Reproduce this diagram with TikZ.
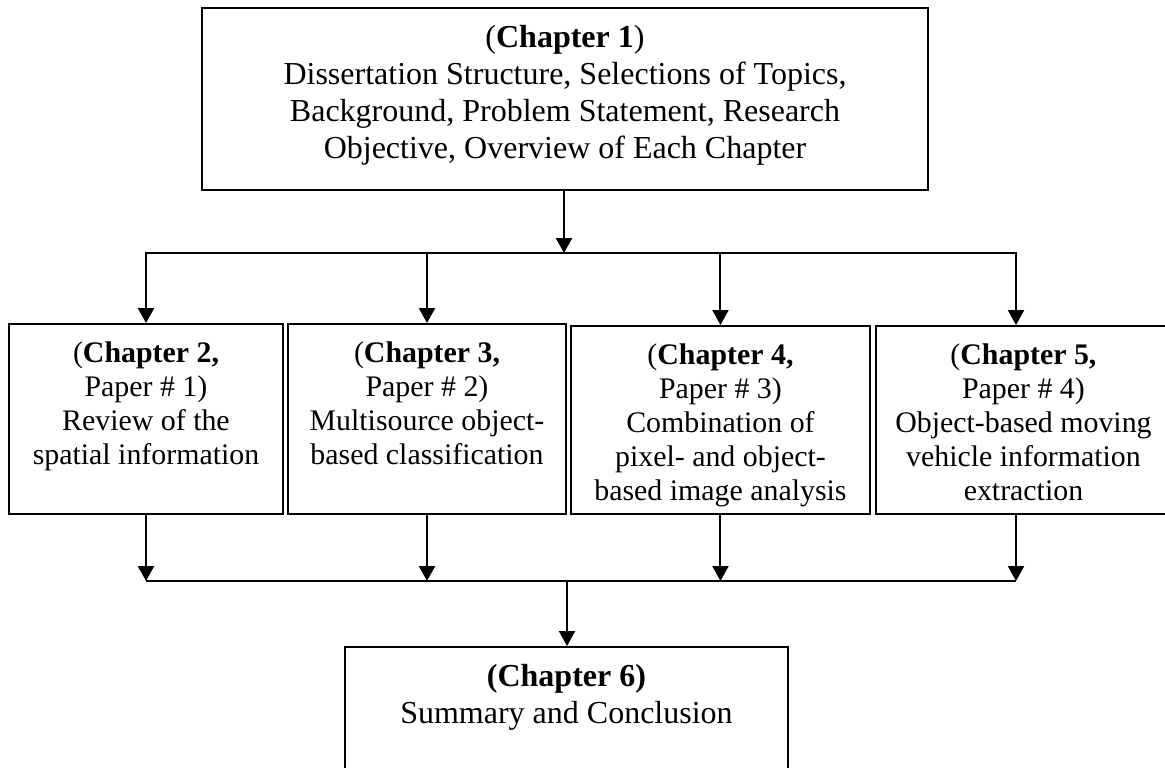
\documentclass[tikz,border=0pt]{standalone}
\usepackage{fontspec}
\setmainfont{Liberation Serif}
\usetikzlibrary{positioning,arrows.meta}

\tikzset{
  chbox/.style={draw, line width=0.75pt, anchor=north west, inner sep=0pt},
  chtext/.style={align=center, inner sep=0pt, font=\fontsize{12}{13.9}\selectfont},
  rowtext/.style={chtext, font=\fontsize{11.2}{12.75}\selectfont},
  arr/.style={line width=0.75pt, -{Triangle[width=6pt,length=5.6pt]}},
  bus/.style={line width=0.75pt}
}

\begin{document}
\begin{tikzpicture}[x=0.375pt, y=-0.375pt]

\useasboundingbox (0,0) rectangle (1165,767);
\clip (0,0) rectangle (1165,767);

\node[chbox, minimum width=272.25pt, minimum height=68.25pt] (ch1) at (201,7) {};
\node[chbox, minimum width=102.75pt, minimum height=71.25pt] (ch2) at (8,323) {};
\node[chbox, minimum width=104.25pt, minimum height=71.25pt] (ch3) at (287,323) {};
\node[chbox, minimum width=112.1pt, minimum height=70.5pt] (ch4) at (570,325) {};
\node[chbox, minimum width=110.6pt, minimum height=70.5pt] (ch5) at (875,325) {};
\node[chbox, minimum width=166.1pt, minimum height=63.75pt] (ch6) at (344,646) {};

\node[chtext, below=6.5pt of ch1.north] (t1) {(\textbf{Chapter 1})\\Dissertation Structure, Selections of Topics,\\Background, Problem Statement, Research\\Objective, Overview of Each Chapter};
\node[rowtext, below=7pt of ch2.north] (t2) {(\textbf{Chapter 2,}\\Paper \# 1)\\Review of the\\spatial information};
\node[rowtext, below=7pt of ch3.north] (t3) {(\textbf{Chapter 3,}\\Paper \# 2)\\Multisource object-\\based classification};
\node[rowtext, below=7pt of ch4.north] (t4) {(\textbf{Chapter 4,}\\Paper \# 3)\\Combination of\\pixel- and object-\\based image analysis};
\node[rowtext, below=7pt of ch5.north] (t5) {(\textbf{Chapter 5,}\\Paper \# 4)\\Object-based moving\\vehicle information\\extraction};
\node[chtext, below=6.5pt of ch6.north] (t6) {\textbf{(Chapter 6)}\\Summary and Conclusion};

\coordinate (split) at (564,253);
\coordinate (merge) at (567,581);

\draw[arr] (split |- ch1.south) -- (split);
\draw[arr] (split) -| (ch2);
\draw[arr] (split) -| (ch3);
\draw[arr] (split) -| (ch4);
\draw[arr] (split) -| ([xshift=-2.8pt]ch5.north);

\draw[arr] (ch2.south) -- (ch2.south |- merge);
\draw[arr] (ch3.south) -- (ch3.south |- merge);
\draw[arr] (ch4.south) -- (ch4.south |- merge);
\draw[arr] ([xshift=-2.8pt]ch5.south) -- ([xshift=-2.8pt]ch5.south |- merge);
\draw[bus] (ch2.south |- merge) -- ([xshift=-2.8pt]ch5.south |- merge);
\draw[arr] (merge) -- (merge |- ch6.north);

\end{tikzpicture}
\end{document}
